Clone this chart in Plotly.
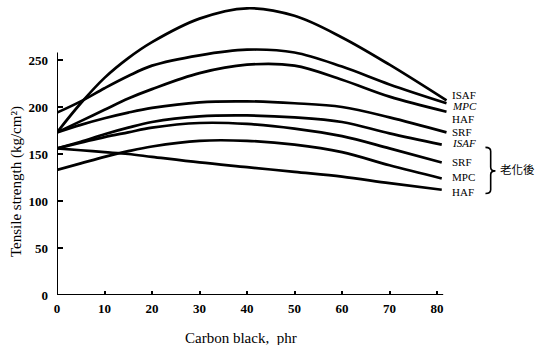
import plotly.graph_objects as go

# Carbon black loading (phr) at which tensile strength was read
carbon_fresh = [0, 5, 10, 15, 20, 30, 40, 50, 60, 70, 82]
carbon_aged = [0, 5, 10, 15, 20, 30, 40, 50, 60, 70, 81]

# Tensile strength (kg/cm2), before ageing
isaf = [173, 204, 231, 252, 269, 294, 305, 297, 274, 245, 207]
mpc = [194, 206, 220, 233, 244, 255, 261, 258, 243, 224, 204]
haf = [173, 185, 197, 209, 219, 236, 245, 244, 229, 211, 195]
srf = [173, 181, 188, 194, 199, 205, 206, 204, 200, 189, 173]

# Tensile strength (kg/cm2), after ageing
isaf_aged = [156, 163, 171, 178, 184, 190, 191, 189, 184, 172, 160]
srf_aged = [156, 162, 168, 173, 178, 183, 182, 177, 169, 156, 141]
mpc_aged = [133, 140, 147, 153, 158, 164, 164, 160, 152, 138, 124]
haf_aged = [156, 154, 152, 150, 147, 141, 136, 131, 126, 119, 112]

x_ticks = [0, 10, 20, 30, 40, 50, 60, 70, 80]
y_ticks = [0, 50, 100, 150, 200, 250]

series = [
    ("ISAF", carbon_fresh, isaf, False, 6),
    ("MPC", carbon_fresh, mpc, True, -3),
    ("HAF", carbon_fresh, haf, False, -8),
    ("SRF", carbon_fresh, srf, False, 0),
    ("ISAF", carbon_aged, isaf_aged, True, 2),
    ("SRF", carbon_aged, srf_aged, False, 0),
    ("MPC", carbon_aged, mpc_aged, False, 2),
    ("HAF", carbon_aged, haf_aged, False, -2),
]

W, H = 538, 345
L, R, T, B = 57, 0, 0, 50
PX_PER_X = 4.75
PX_PER_Y = 0.94
x_max = (W - L - R) / PX_PER_X
y_max = (H - T - B) / PX_PER_Y

SERIF = "Liberation Serif"

fig = go.Figure()
for name, xs, ys, _, _ in series:
    fig.add_trace(go.Scatter(
        x=xs, y=ys, mode="lines", name=name,
        line=dict(color="black", width=2.7, shape="spline", smoothing=1.0),
        cliponaxis=False, showlegend=False, hoverinfo="skip",
    ))

annotations = []
# curve labels at the right-hand ends
for name, xs, ys, italic, dy in series:
    txt = f"<i>{name}</i>" if italic else name
    annotations.append(dict(
        x=82.7, y=ys[-1] + dy, xref="x", yref="y", text=txt, showarrow=False,
        xanchor="left", yanchor="middle",
        font=dict(family=SERIF, size=11, color="black"),
    ))

# brace grouping the aged curves
bx0, bx1, bx2 = 90.2, 91.3, 92.3
by_top, by_mid, by_bot = 157, 132, 108
d = 4
brace = (
    f"M {bx0},{by_top} Q {bx1},{by_top} {bx1},{by_top - d} "
    f"L {bx1},{by_mid + d} Q {bx1},{by_mid} {bx2},{by_mid} "
    f"Q {bx1},{by_mid} {bx1},{by_mid - d} "
    f"L {bx1},{by_bot + d} Q {bx1},{by_bot} {bx0},{by_bot}"
)
shapes = [
    dict(type="path", path=brace, xref="x", yref="y",
         line=dict(color="black", width=1.6)),
    # axis lines
    dict(type="line", xref="x", yref="y", x0=0, x1=0, y0=-1, y1=258,
         line=dict(color="black", width=2)),
    dict(type="line", xref="x", yref="y", x0=0, x1=81.3, y0=0, y1=0,
         line=dict(color="black", width=2)),
]

annotations.append(dict(
    x=92.9, y=by_mid + 2, xref="x", yref="y", text="老化後", showarrow=False,
    xanchor="left", yanchor="middle",
    font=dict(family="Noto Sans CJK TC", size=11.5, color="black"),
))

plot_w = W - L - R
plot_h = H - T - B
annotations.append(dict(
    x=(16 - L) / plot_w, y=(H - B - 182) / plot_h, xref="paper", yref="paper",
    text="Tensile strength (kg/cm²)", showarrow=False, textangle=-90,
    xanchor="center", yanchor="middle",
    font=dict(family=SERIF, size=15, color="black"),
))
annotations.append(dict(
    x=(241 - L) / plot_w, y=(H - B - 338) / plot_h, xref="paper", yref="paper",
    text="Carbon black,  phr", showarrow=False,
    xanchor="center", yanchor="middle",
    font=dict(family=SERIF, size=15, color="black"),
))

fig.update_layout(
    width=W, height=H,
    margin=dict(l=L, r=R, t=T, b=B, pad=0),
    paper_bgcolor="white", plot_bgcolor="white",
    shapes=shapes, annotations=annotations,
    xaxis=dict(
        range=[0, x_max], tickvals=x_ticks, ticktext=[str(v) for v in x_ticks],
        showgrid=False, zeroline=False, showline=False,
        ticks="inside", ticklen=4, tickwidth=1.5, tickcolor="black",
        tickfont=dict(family=SERIF, size=13, color="black", weight="bold"),
        ticklabelstandoff=4,
    ),
    yaxis=dict(
        range=[0, y_max], tickvals=y_ticks, ticktext=[str(v) for v in y_ticks],
        showgrid=False, zeroline=False, showline=False,
        ticks="inside", ticklen=6, tickwidth=2, tickcolor="black",
        tickfont=dict(family=SERIF, size=13, color="black", weight="bold"),
        ticklabelstandoff=8,
    ),
)

fig.write_html("out.html")
